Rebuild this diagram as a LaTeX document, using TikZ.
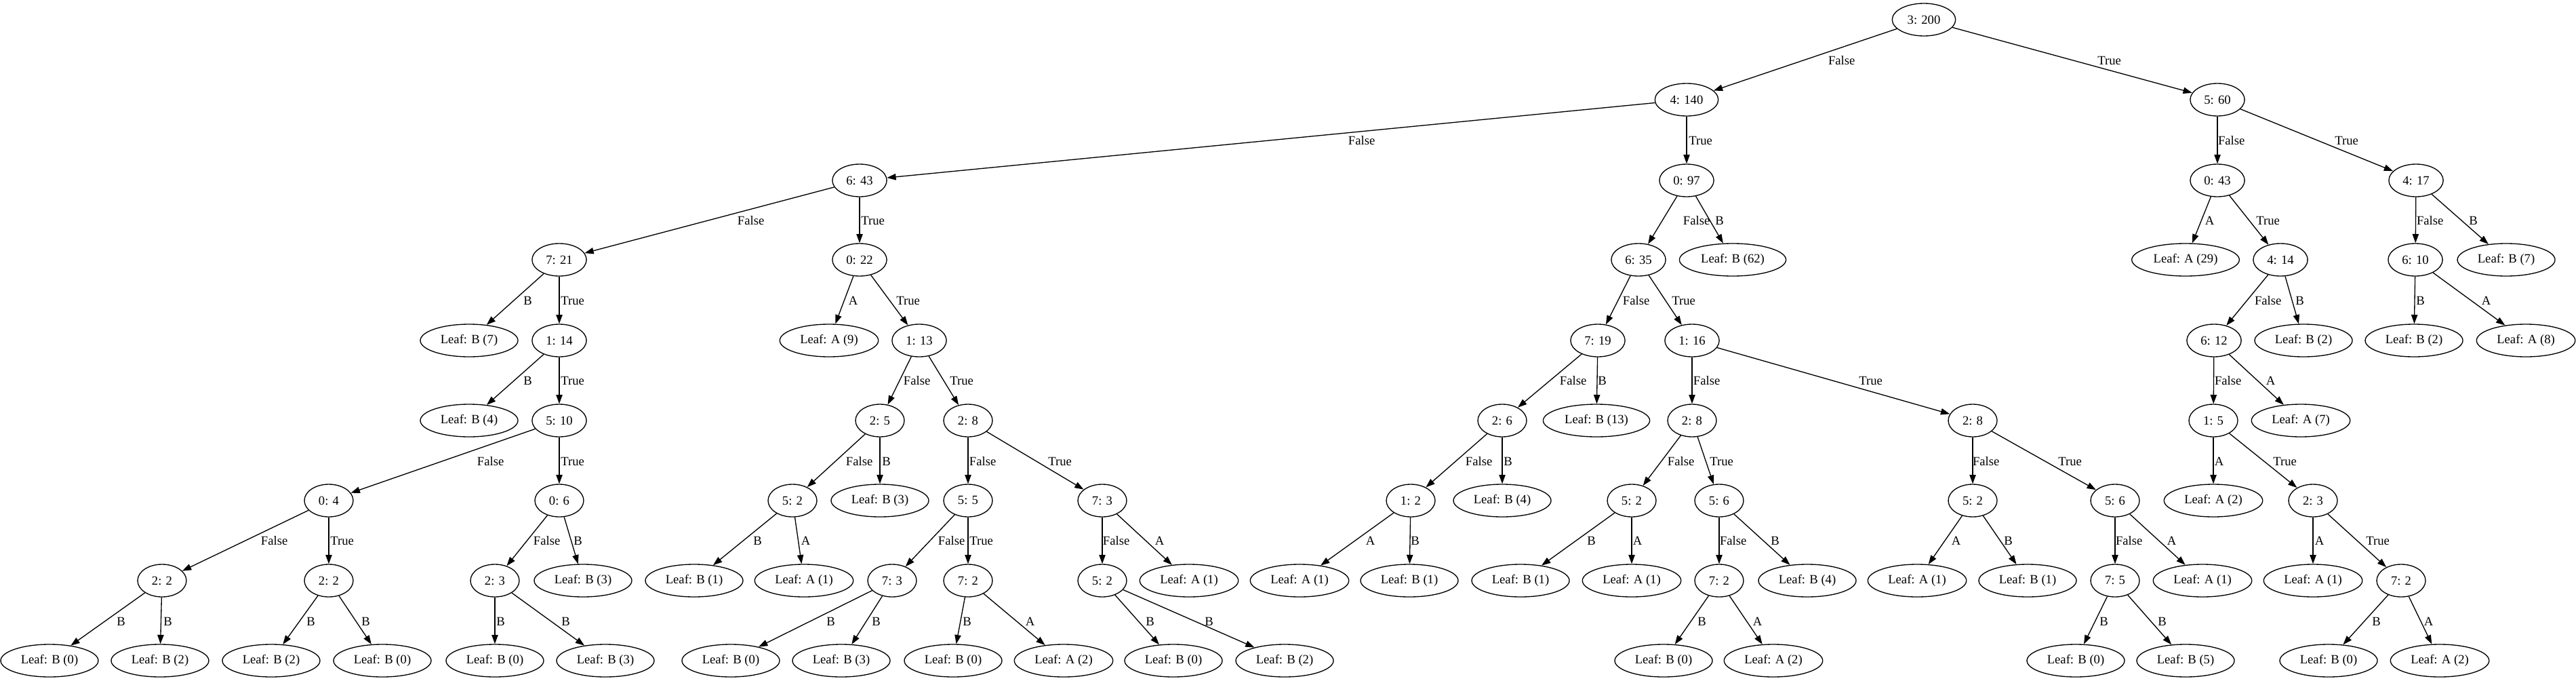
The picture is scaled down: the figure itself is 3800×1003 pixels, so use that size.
\documentclass[tikz,border=0pt]{standalone}
\usepackage{fontspec}
\setmainfont{Liberation Serif}
\usetikzlibrary{arrows.meta,shapes.geometric}
\tikzset{
  tnode/.style={draw, ellipse, line width=1pt, minimum height=36pt, minimum width=54pt,
    inner xsep=6.5pt, inner ysep=0pt, font=\fontsize{14}{16}\selectfont},
  edge/.style={draw, line width=1pt, -{Triangle[length=10pt,width=7pt]}},
  lbl/.style={inner sep=0pt, xshift=2pt, font=\fontsize{14}{16}\selectfont}
}
\newcommand\E[5]{\draw[edge] (#1) -- (#2); \node[lbl] (l#2) at (#4,#5) {#3};}
\begin{document}
\begin{tikzpicture}[x=0.75pt,y=-0.75pt]
\useasboundingbox (0,0) rectangle (3800,1003);
% level 0
\node[tnode] (r) at (2838,29) {3: 200};
% level 1
\node[tnode] (n1) at (2488,147) {4: 140};
\node[tnode] (n2) at (3271,147) {5: 60};
% level 2
\node[tnode] (n11) at (1268,266) {6: 43};
\node[tnode] (n12) at (2488,266) {0: 97};
\node[tnode] (n21) at (3271,266) {0: 43};
\node[tnode] (n22) at (3564,266) {4: 17};
% level 3
\node[tnode] (n111) at (825,383) {7: 21};
\node[tnode] (n112) at (1268,383) {0: 22};
\node[tnode] (n121) at (2417,383) {6: 35};
\node[tnode] (n122) at (2556,383) {Leaf: B (62)};
\node[tnode] (n211) at (3224,383) {Leaf: A (29)};
\node[tnode] (n212) at (3364,383) {4: 14};
\node[tnode] (n221) at (3563,383) {6: 10};
\node[tnode] (n222) at (3697,383) {Leaf: B (7)};
% level 4
\node[tnode] (n1111) at (692,502) {Leaf: B (7)};
\node[tnode] (n1112) at (825,502) {1: 14};
\node[tnode] (n1121) at (1223,502) {Leaf: A (9)};
\node[tnode] (n1122) at (1356,502) {1: 13};
\node[tnode] (n1211) at (2357,502) {7: 19};
\node[tnode] (n1212) at (2496,502) {1: 16};
\node[tnode] (n2121) at (3266,502) {6: 12};
\node[tnode] (n2122) at (3398,502) {Leaf: B (2)};
\node[tnode] (n2211) at (3561,502) {Leaf: B (2)};
\node[tnode] (n2212) at (3726,502) {Leaf: A (8)};
% level 5
\node[tnode] (n11121) at (692,620) {Leaf: B (4)};
\node[tnode] (n11122) at (825,620) {5: 10};
\node[tnode] (n11221) at (1298,620) {2: 5};
\node[tnode] (n11222) at (1428,620) {2: 8};
\node[tnode] (n12111) at (2216,620) {2: 6};
\node[tnode] (n12112) at (2355,620) {Leaf: B (13)};
\node[tnode] (n12121) at (2496,620) {2: 8};
\node[tnode] (n12122) at (2910,620) {2: 8};
\node[tnode] (n21211) at (3265,620) {1: 5};
\node[tnode] (n21212) at (3394,620) {Leaf: A (7)};
% level 6
\node[tnode] (a1) at (485,738) {0: 4};
\node[tnode] (a2) at (825,738) {0: 6};
\node[tnode] (b1) at (1169,738) {5: 2};
\node[tnode] (b2) at (1298,738) {Leaf: B (3)};
\node[tnode] (c1) at (1428,738) {5: 5};
\node[tnode] (c2) at (1626,738) {7: 3};
\node[tnode] (d1) at (2081,738) {1: 2};
\node[tnode] (d2) at (2216,738) {Leaf: B (4)};
\node[tnode] (e1) at (2407,738) {5: 2};
\node[tnode] (e2) at (2536,738) {5: 6};
\node[tnode] (f1) at (2910,738) {5: 2};
\node[tnode] (f2) at (3120,738) {5: 6};
\node[tnode] (g1) at (3265,738) {Leaf: A (2)};
\node[tnode] (g2) at (3412,738) {2: 3};
% level 7
\node[tnode] (a11) at (239,856) {2: 2};
\node[tnode] (a12) at (485,856) {2: 2};
\node[tnode] (a21) at (730,856) {2: 3};
\node[tnode] (a22) at (860,856) {Leaf: B (3)};
\node[tnode] (b11) at (1024,856) {Leaf: B (1)};
\node[tnode] (b12) at (1186,856) {Leaf: A (1)};
\node[tnode] (c11) at (1316,856) {7: 3};
\node[tnode] (c12) at (1428,856) {7: 2};
\node[tnode] (c21) at (1626,856) {5: 2};
\node[tnode] (c22) at (1754,856) {Leaf: A (1)};
\node[tnode] (d11) at (1917,856) {Leaf: A (1)};
\node[tnode] (d12) at (2079,856) {Leaf: B (1)};
\node[tnode] (e11) at (2243,856) {Leaf: B (1)};
\node[tnode] (e12) at (2407,856) {Leaf: A (1)};
\node[tnode] (e21) at (2536,856) {7: 2};
\node[tnode] (e22) at (2666,856) {Leaf: B (4)};
\node[tnode] (f11) at (2828,856) {Leaf: A (1)};
\node[tnode] (f12) at (2991,856) {Leaf: B (1)};
\node[tnode] (f21) at (3120,856) {7: 5};
\node[tnode] (f22) at (3249,856) {Leaf: A (1)};
\node[tnode] (g21) at (3412,856) {Leaf: A (1)};
\node[tnode] (g22) at (3542,856) {7: 2};
% level 8
\node[tnode] (a111) at (73,974) {Leaf: B (0)};
\node[tnode] (a112) at (236,974) {Leaf: B (2)};
\node[tnode] (a121) at (400,974) {Leaf: B (2)};
\node[tnode] (a122) at (564,974) {Leaf: B (0)};
\node[tnode] (a211) at (730,974) {Leaf: B (0)};
\node[tnode] (a212) at (893,974) {Leaf: B (3)};
\node[tnode] (c111) at (1078,974) {Leaf: B (0)};
\node[tnode] (c112) at (1241,974) {Leaf: B (3)};
\node[tnode] (c121) at (1406,974) {Leaf: B (0)};
\node[tnode] (c122) at (1569,974) {Leaf: A (2)};
\node[tnode] (c211) at (1731,974) {Leaf: B (0)};
\node[tnode] (c212) at (1895,974) {Leaf: B (2)};
\node[tnode] (e211) at (2454,974) {Leaf: B (0)};
\node[tnode] (e212) at (2616,974) {Leaf: A (2)};
\node[tnode] (f211) at (3062,974) {Leaf: B (0)};
\node[tnode] (f212) at (3224,974) {Leaf: B (5)};
\node[tnode] (g221) at (3435,974) {Leaf: B (0)};
\node[tnode] (g222) at (3599,974) {Leaf: A (2)};
% edges 0-1
\E{r}{n1}{False}{2714}{89}
\E{r}{n2}{True}{3109}{89}
% edges 1-2
\E{n1}{n11}{False}{2006}{207}
\E{n1}{n12}{True}{2506}{207}
\E{n2}{n21}{False}{3289}{207}
\E{n2}{n22}{True}{3459}{207}
% edges 2-3
\E{n11}{n111}{False}{1105}{325}
\E{n11}{n112}{True}{1285}{325}
\E{n12}{n121}{False}{2500}{325}
\E{n12}{n122}{B}{2534}{325}
\E{n21}{n211}{A}{3257}{325}
\E{n21}{n212}{True}{3343}{325}
\E{n22}{n221}{False}{3582}{325}
\E{n22}{n222}{B}{3646}{325}
% edges 3-4
\E{n111}{n1111}{B}{776}{443}
\E{n111}{n1112}{True}{842}{443}
\E{n112}{n1121}{A}{1256}{443}
\E{n112}{n1122}{True}{1337}{443}
\E{n121}{n1211}{False}{2411}{443}
\E{n121}{n1212}{True}{2481}{443}
\E{n212}{n2121}{False}{3343}{443}
\E{n212}{n2122}{B}{3390}{443}
\E{n221}{n2211}{B}{3568}{443}
\E{n221}{n2212}{A}{3665}{443}
% edges 4-5
\E{n1112}{n11121}{B}{776}{561}
\E{n1112}{n11122}{True}{842}{561}
\E{n1122}{n11221}{False}{1350}{561}
\E{n1122}{n11222}{True}{1416}{561}
\E{n1211}{n12111}{False}{2318}{561}
\E{n1211}{n12112}{B}{2361}{561}
\E{n1212}{n12121}{False}{2515}{561}
\E{n1212}{n12122}{True}{2757}{561}
\E{n2121}{n21211}{False}{3284}{561}
\E{n2121}{n21212}{A}{3347}{561}
% edges 5-6
\E{n11122}{a1}{False}{721}{680}
\E{n11122}{a2}{True}{842}{680}
\E{n11221}{b1}{False}{1265}{680}
\E{n11221}{b2}{B}{1305}{680}
\E{n11222}{c1}{False}{1447}{680}
\E{n11222}{c2}{True}{1561}{680}
\E{n12111}{d1}{False}{2179}{680}
\E{n12111}{d2}{B}{2222}{680}
\E{n12121}{e1}{False}{2477}{680}
\E{n12121}{e2}{True}{2537}{680}
\E{n12122}{f1}{False}{2927}{680}
\E{n12122}{f2}{True}{3051}{680}
\E{n21211}{g1}{A}{3271}{680}
\E{n21211}{g2}{True}{3368}{680}
% edges 6-7
\E{a1}{a11}{False}{402}{797}
\E{a1}{a12}{True}{502}{797}
\E{a2}{a21}{False}{804}{797}
\E{a2}{a22}{B}{850}{797}
\E{b1}{b11}{B}{1115}{797}
\E{b1}{b12}{A}{1186}{797}
\E{c1}{c11}{False}{1401}{797}
\E{c1}{c12}{True}{1445}{797}
\E{c2}{c21}{False}{1644}{797}
\E{c2}{c22}{A}{1708}{797}
\E{d1}{d11}{A}{2019}{797}
\E{d1}{d12}{B}{2085}{797}
\E{e1}{e11}{B}{2345}{797}
\E{e1}{e12}{A}{2413}{797}
\E{e2}{e21}{False}{2554}{797}
\E{e2}{e22}{B}{2616}{797}
\E{f1}{f11}{A}{2883}{797}
\E{f1}{f12}{B}{2960}{797}
\E{f2}{f21}{False}{3138}{797}
\E{f2}{f22}{A}{3201}{797}
\E{g2}{g21}{A}{3419}{797}
\E{g2}{g22}{True}{3505}{797}
% edges 7-8
\E{a11}{a111}{B}{176}{916}
\E{a11}{a112}{B}{245}{916}
\E{a12}{a121}{B}{456}{916}
\E{a12}{a122}{B}{537}{916}
\E{a21}{a211}{B}{736}{916}
\E{a21}{a212}{B}{832}{916}
\E{c11}{c111}{B}{1223}{916}
\E{c11}{c112}{B}{1290}{916}
\E{c12}{c121}{B}{1424}{916}
\E{c12}{c122}{A}{1517}{916}
\E{c21}{c211}{B}{1694}{916}
\E{c21}{c212}{B}{1781}{916}
\E{e21}{e211}{B}{2508}{916}
\E{e21}{e212}{A}{2590}{916}
\E{f21}{f211}{B}{3101}{916}
\E{f21}{f212}{B}{3187}{916}
\E{g22}{g221}{B}{3503}{916}
\E{g22}{g222}{A}{3580}{916}
\end{tikzpicture}
\end{document}
